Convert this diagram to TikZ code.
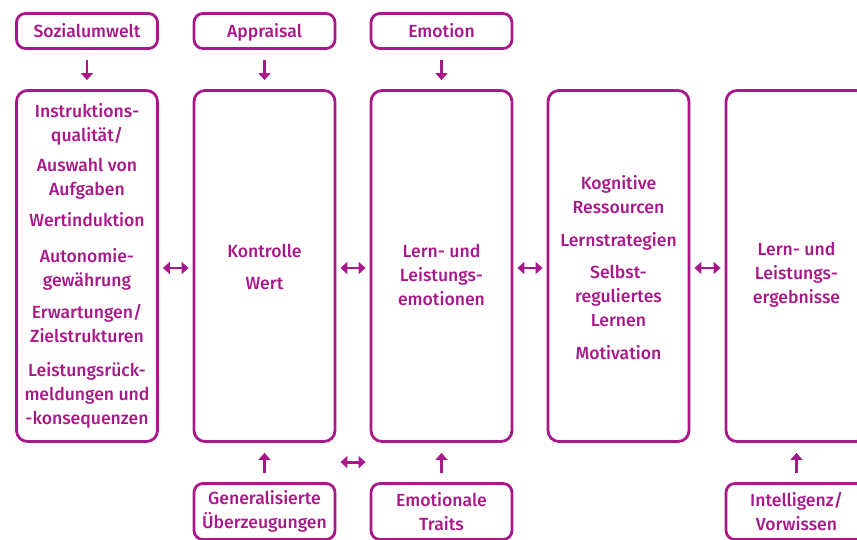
\documentclass[tikz,border=0pt]{standalone}
\usepackage{fontspec}
\setmainfont{Fira Sans}[UprightFont=* Medium]
\definecolor{fbMagenta}{RGB}{168, 24, 136}
\usetikzlibrary{arrows.meta}

\begin{document}
\begin{tikzpicture}[
    x=1pt, y=-1pt,
    font=\fontsize{17.6}{24}\selectfont,
    every node/.style={text=fbMagenta, align=center},
    box/.style={rectangle, draw=fbMagenta, line width=2.8pt, rounded corners=9pt,
                minimum width=141pt, inner sep=0pt},
    headbox/.style={box, minimum height=35pt, text height=13.4pt, text depth=0pt},
    mainbox/.style={box, minimum height=351pt, rounded corners=11pt},
    footbox/.style={box, minimum height=56pt},
    txt/.style={inner sep=0pt},
    link/.style={-{Triangle[length=7pt, width=12pt]}, line width=2.8pt, fbMagenta},
    both/.style={{Triangle[length=7pt, width=12pt]}-{Triangle[length=7pt, width=12pt]},
                 line width=2.8pt, fbMagenta, shorten <=4pt, shorten >=4pt},
  ]
    \useasboundingbox (0,0) rectangle (857,539);
    \clip (0,0) rectangle (857,539);

    % Top row
    \node[headbox] (sozial) at (87,31) {Sozialumwelt};
    \node[headbox] (apprai) at (264.5,31) {Appraisal};
    \node[headbox] (emotio) at (441.5,31) {Emotion};

    % Main row
    \node[mainbox] (umwBox) at (87,266) {};
    \node[txt] (umwTxt) at (87,266)
         {Instruktions-\\qualität/\\[6pt]Auswahl von\\Aufgaben\\[7pt]Wertinduktion\\[12pt]
          Autonomie-\\gewährung\\[8pt]Erwartungen/\\Zielstrukturen\\[10pt]
          Leistungsrück-\\meldungen und\\-konsequenzen};

    \node[mainbox] (kwBox) at (264.5,266) {};
    \node[txt] (kwTxt) at (264.5,267) {Kontrolle\\[8pt]Wert};

    \node[mainbox] (emoBox) at (441.5,266) {};
    \node[txt] (emoTxt) at (441.5,274.5) {Lern- und\\Leistungs-\\emotionen};

    \node[mainbox] (resBox) at (618.5,266) {};
    \node[txt] (resTxt) at (618.5,267.5)
         {Kognitive\\Ressourcen\\[9pt]Lernstrategien\\[8pt]
          Selbst-\\reguliertes\\Lernen\\[9pt]Motivation};

    \node[mainbox] (ergBox) at (796.5,266) {};
    \node[txt] (ergTxt) at (796.5,274.5) {Lern- und\\Leistungs-\\ergebnisse};

    % Bottom row
    \node[footbox] (genUeb) at (264.5,511.5) {Generalisierte\\Überzeugungen};
    \node[footbox] (emoTra) at (441.5,511.5) {Emotionale\\Traits};
    \node[footbox] (intVor) at (796.5,511.5) {Intelligenz/\\Vorwissen};

    % Arrows
    \draw[link, shorten <=10pt, shorten >=9pt] (sozial) -- (umwBox);
    \draw[link, shorten <=10pt, shorten >=9pt] (apprai) -- (kwBox);
    \draw[link, shorten <=10pt, shorten >=9pt] (emotio) -- (emoBox);

    \draw[both] ([yshift=-2pt]umwBox.east) -- ([yshift=-2pt]kwBox.west);
    \draw[both] ([yshift=-2pt]kwBox.east) -- ([yshift=-2pt]emoBox.west);
    \draw[both] ([yshift=-2pt]emoBox.east) -- ([yshift=-2pt]resBox.west);
    \draw[both] ([yshift=-2pt]resBox.east) -- ([yshift=-2pt]ergBox.west);

    \draw[link, shorten <=9pt, shorten >=10pt] (genUeb) -- (kwBox);
    \draw[link, shorten <=9pt, shorten >=10pt] (emoTra) -- (emoBox);
    \draw[link, shorten <=9pt, shorten >=10pt] (intVor.north) -- (ergBox.south);

    \draw[both] ([yshift=20pt]genUeb.north east) -- ([yshift=20pt]emoTra.north west);
  \end{tikzpicture}
\end{document}
